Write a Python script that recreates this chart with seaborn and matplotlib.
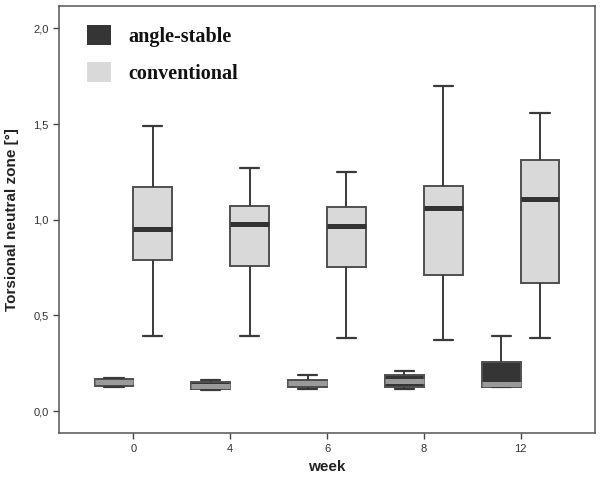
import numpy as np
import pandas as pd
import matplotlib
matplotlib.use("Agg")
import matplotlib.pyplot as plt
import seaborn as sns

# ---- data ----
weeks = ["0", "4", "6", "8", "12"]
groups = ["angle-stable", "conventional"]

ang_low = [0.125, 0.108, 0.117, 0.115, 0.125]
ang_q1 = [0.132, 0.115, 0.125, 0.125, 0.125]
ang_med = [0.152, 0.132, 0.145, 0.158, 0.140]
ang_q3 = [0.170, 0.150, 0.160, 0.188, 0.258]
ang_high = [0.175, 0.162, 0.188, 0.209, 0.390]

conv_low = [0.39, 0.39, 0.38, 0.37, 0.38]
conv_q1 = [0.79, 0.76, 0.755, 0.71, 0.67]
conv_med = [0.95, 0.98, 0.97, 1.06, 1.11]
conv_q3 = [1.17, 1.07, 1.065, 1.175, 1.315]
conv_high = [1.49, 1.27, 1.25, 1.70, 1.56]

y_ticks = [0.0, 0.5, 1.0, 1.5, 2.0]
y_tick_labels = ["0,0", "0,5", "1,0", "1,5", "2,0"]

# ---- build long table: five summary points per box ----
rows = []
for i, w in enumerate(weeks):
    for v in (ang_low[i], ang_q1[i], ang_med[i], ang_q3[i], ang_high[i]):
        rows.append((w, "angle-stable", v))
    for v in (conv_low[i], conv_q1[i], conv_med[i], conv_q3[i], conv_high[i]):
        rows.append((w, "conventional", v))
df = pd.DataFrame(rows, columns=["week", "group", "value"])

sns.set_theme(style="white")
plt.rcParams["font.family"] = ["Liberation Sans", "DejaVu Sans"]

fill_colors = {"angle-stable": "#353535", "conventional": "#d9d9d9"}
median_colors = ["#9a9a9a", "#333333"]

fig = plt.figure(figsize=(6.0, 4.78), dpi=100)
ax = fig.add_axes([0.098, 0.0948, 0.894, 0.892])

sns.boxplot(
    data=df, x="week", y="value", hue="group",
    order=weeks, hue_order=groups, palette=fill_colors,
    width=0.8, gap=0, whis=(0, 100), showfliers=False,
    linewidth=1.4, linecolor="#505050", saturation=1,
    medianprops=dict(linewidth=3.6, solid_capstyle="butt"),
    whiskerprops=dict(color="#3a3a3a", linewidth=1.4),
    capprops=dict(color="#3a3a3a", linewidth=1.6),
    ax=ax,
)

for cont, mc in zip(ax.containers, median_colors):
    for ln in cont.medians:
        ln.set_color(mc)

ax.set_xlim(-0.77, 4.77)
ax.set_ylim(-0.113, 2.116)
ax.set_yticks(y_ticks)
ax.set_yticklabels(y_tick_labels)

for s in ax.spines.values():
    s.set_visible(True)
    s.set_color("#555555")
    s.set_linewidth(1.1)

ax.tick_params(axis="both", which="both", direction="out", length=4.5, width=1.0,
               color="#444444", labelsize=8, labelcolor="#333333", pad=3)
ax.tick_params(axis="x", bottom=True, top=False, pad=4)
ax.tick_params(axis="y", left=True, right=False)

ax.set_xlabel("week", fontsize=11, fontweight="bold", color="#222222", labelpad=4)
ax.set_ylabel("Torsional neutral zone [°]", fontsize=11, fontweight="bold",
              color="#222222", labelpad=10)

leg = ax.legend(
    loc="upper left", bbox_to_anchor=(0.052, 0.956), frameon=False,
    prop={"family": ["Liberation Serif", "DejaVu Serif"], "weight": "bold", "size": 14.5},
    handlelength=1.2, handleheight=1.15, handletextpad=0.85, labelspacing=0.75,
    borderpad=0, borderaxespad=0,
)
for h in leg.legend_handles:
    h.set_edgecolor("none")
for t in leg.get_texts():
    t.set_color("#111111")

fig.savefig("out.png", dpi=100)
